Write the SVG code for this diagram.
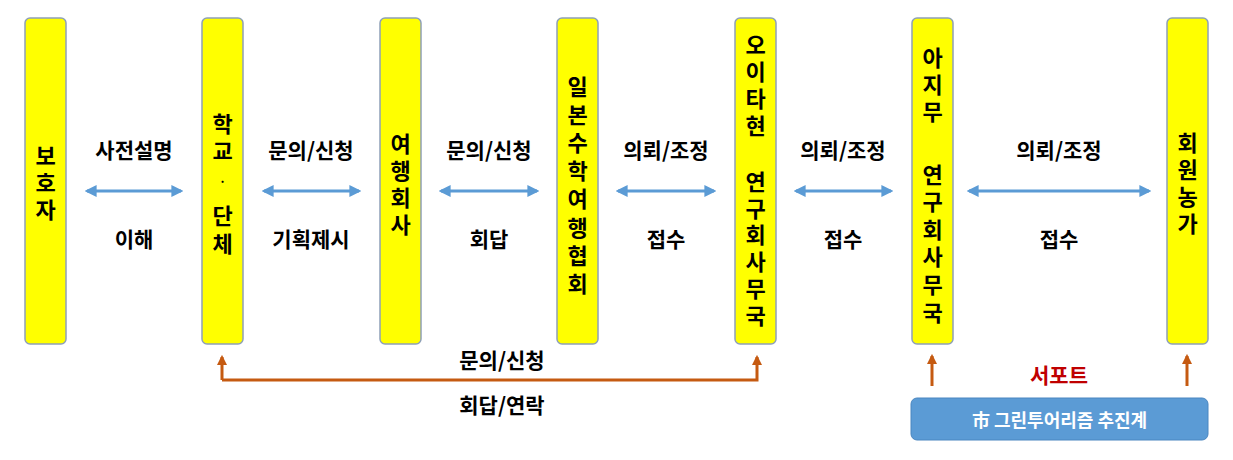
<svg xmlns="http://www.w3.org/2000/svg" width="1233" height="460" viewBox="0 0 1233 460">
<style>
.n{fill:#ffff00;stroke:#8ea0b8;stroke-width:1.5}
.t{font-family:"Noto Sans CJK KR","Liberation Sans",sans-serif;font-weight:bold;font-size:22px;text-anchor:middle;dominant-baseline:central;fill:#000}
.l{font-family:"Noto Sans CJK KR","Liberation Sans",sans-serif;font-weight:bold;font-size:21px;text-anchor:middle;dominant-baseline:central;fill:#000}
.b{stroke:#5b9bd5;stroke-width:3;fill:none;marker-start:url(#ba);marker-end:url(#ba)}
.o{stroke:#c55a11;stroke-width:3;fill:none;marker-end:url(#oa)}
</style>
<defs>
<marker id="ba" viewBox="0 0 10 10" refX="8" refY="5" markerWidth="4" markerHeight="4" orient="auto-start-reverse"><path d="M0,0L10,5L0,10z" fill="#5b9bd5"/></marker>
<marker id="oa" viewBox="0 0 10 10" refX="8" refY="5" markerWidth="3.5" markerHeight="3.5" orient="auto"><path d="M0,0L10,5L0,10z" fill="#c55a11"/></marker>
</defs>
<g id="n1"><rect class="n" x="25" y="18" width="41" height="326" rx="5"/><text class="t" x="45.5" y="154">보</text><text class="t" x="45.5" y="181">호</text><text class="t" x="45.5" y="208">자</text></g>
<g id="n2"><rect class="n" x="202" y="18" width="41" height="326" rx="5"/><text class="t" x="222.5" y="122">학</text><text class="t" x="222.5" y="149">교</text><text class="t" x="222.5" y="180" style="font-size:12px">·</text><text class="t" x="222.5" y="214">단</text><text class="t" x="222.5" y="242">체</text></g>
<g id="n3"><rect class="n" x="380" y="18" width="41" height="326" rx="5"/><text class="t" x="400.5" y="142">여</text><text class="t" x="400.5" y="169">행</text><text class="t" x="400.5" y="196">회</text><text class="t" x="400.5" y="223">사</text></g>
<g id="n4"><rect class="n" x="557" y="18" width="41" height="326" rx="5"/><text class="t" x="577.5" y="85">일</text><text class="t" x="577.5" y="113">본</text><text class="t" x="577.5" y="141">수</text><text class="t" x="577.5" y="169">학</text><text class="t" x="577.5" y="197">여</text><text class="t" x="577.5" y="226">행</text><text class="t" x="577.5" y="254">협</text><text class="t" x="577.5" y="282">회</text></g>
<g id="n5"><rect class="n" x="735" y="18" width="41" height="326" rx="5"/><text class="t" x="755.5" y="43">오</text><text class="t" x="755.5" y="70">이</text><text class="t" x="755.5" y="97">타</text><text class="t" x="755.5" y="124">현</text><text class="t" x="755.5" y="180">연</text><text class="t" x="755.5" y="207">구</text><text class="t" x="755.5" y="233">회</text><text class="t" x="755.5" y="260">사</text><text class="t" x="755.5" y="287">무</text><text class="t" x="755.5" y="314">국</text></g>
<g id="n6"><rect class="n" x="912" y="18" width="41" height="326" rx="5"/><text class="t" x="932.5" y="56">아</text><text class="t" x="932.5" y="83">지</text><text class="t" x="932.5" y="110">무</text><text class="t" x="932.5" y="173">연</text><text class="t" x="932.5" y="200">구</text><text class="t" x="932.5" y="228">회</text><text class="t" x="932.5" y="255">사</text><text class="t" x="932.5" y="283">무</text><text class="t" x="932.5" y="311">국</text></g>
<g id="n7"><rect class="n" x="1167" y="18" width="41" height="326" rx="5"/><text class="t" x="1187.5" y="141">회</text><text class="t" x="1187.5" y="168">원</text><text class="t" x="1187.5" y="195">농</text><text class="t" x="1187.5" y="222">가</text></g>
<g id="n8"><rect x="911" y="398" width="297" height="42" rx="6" fill="#5b9bd5" stroke="#4a86c0"/><text class="l" x="1059.5" y="419" style="fill:#fff;font-size:18px">市 그린투어리즘 추진계</text></g>
<g id="connectors">
<line class="b" x1="87" y1="191" x2="181" y2="191"/>
<line class="b" x1="264" y1="191" x2="359" y2="191"/>
<line class="b" x1="441" y1="191" x2="537" y2="191"/>
<line class="b" x1="618" y1="191" x2="714" y2="191"/>
<line class="b" x1="796" y1="191" x2="891" y2="191"/>
<line class="b" x1="969" y1="191" x2="1149" y2="191"/>
<path class="o" d="M222,380V357"/>
<path class="o" d="M222,380H757V357"/>
<path class="o" d="M932,386V356"/>
<path class="o" d="M1187,386V356"/>
</g>
<g id="labels">
<text class="l" x="134" y="149">사전설명</text><text class="l" x="134" y="238">이해</text>
<text class="l" x="311" y="149">문의/신청</text><text class="l" x="311" y="238">기획제시</text>
<text class="l" x="489" y="149">문의/신청</text><text class="l" x="489" y="238">회답</text>
<text class="l" x="666" y="149">의뢰/조정</text><text class="l" x="666" y="238">접수</text>
<text class="l" x="843" y="149">의뢰/조정</text><text class="l" x="843" y="238">접수</text>
<text class="l" x="1059" y="149">의뢰/조정</text><text class="l" x="1059" y="238">접수</text>
<text class="l" x="502" y="359">문의/신청</text><text class="l" x="502" y="404">회답/연락</text>
<text class="l" x="1059" y="374" style="fill:#c00000">서포트</text>
</g>
</svg>
